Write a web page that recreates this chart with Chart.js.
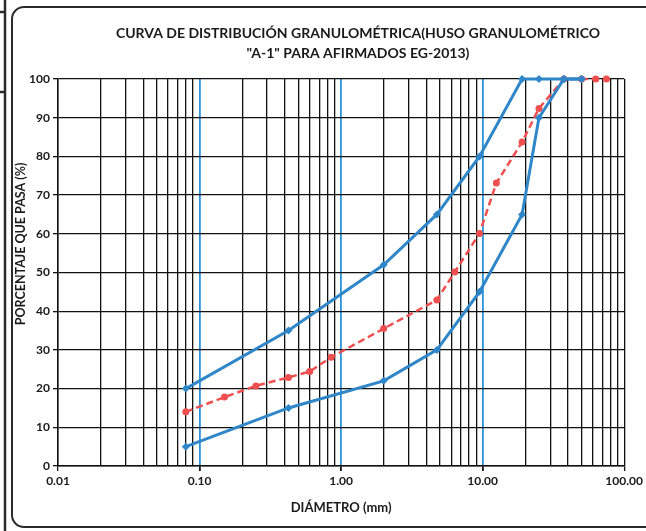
<!DOCTYPE html>
<html lang="es">
<head>
  <meta charset="UTF-8">
  <title>Curva granulométrica - Huso A-1</title>
  <script src="https://cdn.jsdelivr.net/npm/chart.js"></script>
  <style>
    html, body {
      margin: 0;
      padding: 0;
      background: #ffffff;
    }
    .chart-container {
      width: 646px;
      height: 531px;
      position: relative;
    }
  </style>
</head>
<body>
  <div class="chart-container">
    <canvas id="granuloChart"></canvas>
  </div>

  <script>
    // Huso A-1 (EG-2013): tamices y límites
    const husoSieves = [0.08, 0.425, 2.0, 4.75, 9.5, 19.0, 25.0, 37.5, 50.0];
    const husoUpper = [20, 35, 52, 65, 80, 100, 100, 100, 100];
    const husoLower = [5, 15, 22, 30, 45, 65, 90, 100, 100];

    // Muestra ensayada
    const sampleSieves = [0.08, 0.15, 0.25, 0.425, 0.6, 0.85, 2.0, 4.75, 6.35, 9.5, 12.5, 19.0, 25.0, 37.5, 50.0, 63.0, 75.0];
    const samplePassing = [14, 17.8, 20.7, 22.9, 24.4, 28.1, 35.5, 42.9, 50.1, 60.1, 73.1, 83.7, 92.4, 100, 100, 100, 100];

    // Ejes
    const xDecades = [0.01, 0.1, 1, 10, 100];
    const xTickLabels = ['0.01', '0.10', '1.00', '10.00', '100.00'];
    const yTicks = [0, 10, 20, 30, 40, 50, 60, 70, 80, 90, 100];

    const titleLines = ['CURVA DE DISTRIBUCIÓN GRANULOMÉTRICA(HUSO GRANULOMÉTRICO', '"A-1" PARA AFIRMADOS EG-2013)'];

    const BLUE = '#2f86c8';
    const RED = '#ef4f4f';
    const GRID_BLUE = '#2a93d8';
    const FONT = 'Lato, "Open Sans", sans-serif';

    function toPoints(xs, ys) {
      return xs.map((x, i) => ({ x: x, y: ys[i] }));
    }

    function isDecade(v) {
      return xDecades.some(d => Math.abs(v - d) < d * 1e-6);
    }

    function isInnerDecade(v) {
      return xDecades.slice(1, -1).some(d => Math.abs(v - d) < d * 1e-6);
    }

    // all log grid positions (1..9 x each decade)
    const xGridValues = [];
    xDecades.slice(0, -1).forEach(d => {
      for (let m = 1; m <= 9; m++) xGridValues.push(+(d * m).toPrecision(6));
    });
    xGridValues.push(xDecades[xDecades.length - 1]);

    // frame, title and rotated y label
    const decorPlugin = {
      id: 'decor',
      beforeDraw(chart) {
        const c = chart.ctx;
        c.save();
        c.strokeStyle = '#2b2b2b';
        c.lineWidth = 2;
        c.beginPath();
        c.roundRect(12, 7, 660, 520, 12);
        c.stroke();
        c.lineWidth = 2.5;
        c.beginPath();
        c.moveTo(5, 0); c.lineTo(5, 531);
        c.moveTo(0, 12); c.lineTo(6, 12);
        c.moveTo(0, 92); c.lineTo(6, 92);
        c.stroke();
        c.restore();
      },
      afterDraw(chart) {
        const c = chart.ctx;
        c.save();
        c.fillStyle = '#1a1a1a';
        c.textAlign = 'center';
        c.textBaseline = 'middle';
        c.font = 'bold 14px ' + FONT;
        c.fillText(titleLines[0], 358, 33);
        c.fillText(titleLines[1], 358, 53);
        c.translate(21, 244);
        c.rotate(-Math.PI / 2);
        c.font = 'bold 12.5px ' + FONT;
        c.fillText('PORCENTAJE QUE PASA (%)', 0, 0);
        c.restore();
      }
    };

    const data = {
      datasets: [
        {
          label: 'Límite superior',
          data: toPoints(husoSieves, husoUpper),
          borderColor: BLUE,
          backgroundColor: BLUE,
          borderWidth: 3,
          pointStyle: 'rectRot',
          pointRadius: 4,
          pointBorderWidth: 0,
          clip: false,
        },
        {
          label: 'Límite inferior',
          data: toPoints(husoSieves, husoLower),
          borderColor: BLUE,
          backgroundColor: BLUE,
          borderWidth: 3,
          pointStyle: 'rectRot',
          pointRadius: 4,
          pointBorderWidth: 0,
          clip: false,
        },
        {
          label: 'Muestra',
          data: toPoints(sampleSieves, samplePassing),
          borderColor: RED,
          backgroundColor: RED,
          borderWidth: 2.5,
          borderDash: [7, 4],
          pointStyle: 'circle',
          pointRadius: 3.5,
          pointBorderWidth: 0,
          clip: false,
        },
      ],
    };

    const config = {
      type: 'line',
      data: data,
      plugins: [decorPlugin],
      options: {
        responsive: true,
        maintainAspectRatio: false,
        animation: false,
        layout: {
          padding: { left: 30, right: 20, top: 79, bottom: 10 },
        },
        plugins: {
          legend: { display: false },
          tooltip: { enabled: false },
          title: { display: false },
        },
        scales: {
          x: {
            type: 'logarithmic',
            min: xDecades[0],
            max: xDecades[xDecades.length - 1],
            afterBuildTicks(scale) {
              scale.ticks = xGridValues.map(v => ({ value: v }));
            },
            afterFit(scale) {
              scale.height = 55;
            },
            ticks: {
              autoSkip: false,
              maxRotation: 0,
              padding: 3,
              color: '#1a1a1a',
              font: { family: FONT, size: 12, weight: 'bold' },
              callback(value) {
                const i = xDecades.findIndex(d => Math.abs(value - d) < d * 1e-6);
                return i >= 0 ? xTickLabels[i] : '';
              },
            },
            grid: {
              drawTicks: true,
              tickLength: 5,
              color(ctx) {
                return ctx.tick && isInnerDecade(ctx.tick.value) ? GRID_BLUE : '#111111';
              },
              lineWidth(ctx) {
                return ctx.tick && isInnerDecade(ctx.tick.value) ? 1.8 : 1.3;
              },
              tickColor(ctx) {
                return ctx.tick && isDecade(ctx.tick.value) ? '#111111' : 'rgba(0,0,0,0)';
              },
            },
            border: { display: true, color: '#111111', width: 1.5 },
            title: {
              display: true,
              text: 'DIÁMETRO (mm)',
              color: '#1a1a1a',
              font: { family: FONT, size: 13, weight: 'bold' },
              padding: { top: 4, bottom: 5 },
            },
          },
          y: {
            min: yTicks[0],
            max: yTicks[yTicks.length - 1],
            afterBuildTicks(scale) {
              scale.ticks = yTicks.map(v => ({ value: v }));
            },
            afterFit(scale) {
              scale.width = 28;
            },
            ticks: {
              padding: 3,
              color: '#1a1a1a',
              font: { family: FONT, size: 12, weight: 'bold' },
            },
            grid: {
              color: '#111111',
              lineWidth: 1.3,
              tickLength: 5,
              tickColor: '#111111',
            },
            border: { display: true, color: '#111111', width: 1.5 },
          },
        },
      },
    };

    const ctx = document.getElementById('granuloChart').getContext('2d');
    new Chart(ctx, config);
  </script>
</body>
</html>
